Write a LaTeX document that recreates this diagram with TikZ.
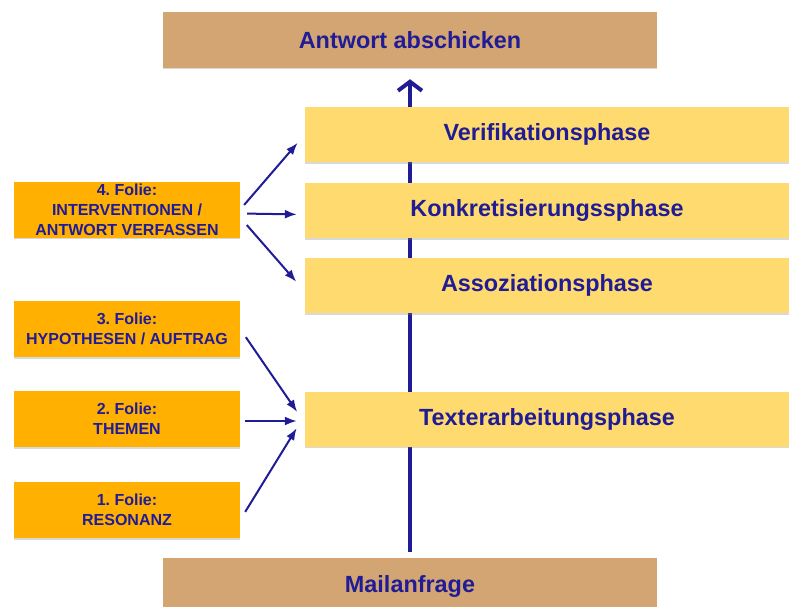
\documentclass[tikz,border=0pt]{standalone}
\usepackage{fontspec}
\setmainfont{Liberation Sans}
\usetikzlibrary{arrows.meta,shadows,positioning,backgrounds}
\definecolor{tanbox}{RGB}{211,165,115}
\definecolor{phasebox}{RGB}{255,218,110}
\definecolor{foliebox}{RGB}{255,176,0}
\definecolor{inkblue}{RGB}{32,28,150}
\frenchspacing

\begin{document}
\begin{tikzpicture}[x=1pt,y=-1pt,
	box/.style={inner sep=0pt,text=inkblue,align=center,
		drop shadow={shadow xshift=0pt,shadow yshift=-1.5pt,opacity=0.3}},
	endbox/.style={box,fill=tanbox,minimum width=494pt,minimum height=56pt,
		font=\bfseries\fontsize{23.4}{26}\selectfont},
	phase/.style={box,fill=phasebox,minimum width=484pt,minimum height=55pt,
		font=\bfseries\fontsize{23.4}{26}\selectfont},
	folie/.style={box,fill=foliebox,minimum width=226pt,minimum height=56pt,
		font=\bfseries\fontsize{16}{20}\selectfont},
	link/.style={-{Latex[length=12pt,width=9pt]},line width=2pt,inkblue}]
	\clip (0,0) rectangle (789,607);
	% end points
	\node[endbox] (antwort) at (410,40) {Antwort abschicken};
	\node[endbox] (mail) at (410,586) {Mailanfrage};
	% phases
	\node[phase] (verif) at (547,134.5) {Verifikationsphase};
	\node[phase] (konkret) at (547,210.5) {Konkretisierungssphase};
	\node[phase] (assoz) at (547,285.5) {Assoziationsphase};
	\node[phase] (texter) at (547,419) {Texterarbeitungsphase};
	% folien
	\node[folie] (folie4) at (127,209.5) {4. Folie:\\INTERVENTIONEN /\\ANTWORT VERFASSEN};
	\node[folie] (folie3) at (127,329) {3. Folie:\\HYPOTHESEN / AUFTRAG};
	\node[folie] (folie2) at (127,419) {2. Folie:\\THEMEN};
	\node[folie] (folie1) at (127,510) {1. Folie:\\RESONANZ};
	% main flow
	\begin{scope}[on background layer]
		\draw[-{Straight Barb[length=9pt,width=24pt]},line width=4pt,inkblue,
			shorten <=6pt,shorten >=11pt] (mail.north) -- (antwort.south);
	\end{scope}
	% links
	\draw[link,shorten <=6pt,shorten >=11pt] (folie4.east) -- (verif.west);
	\draw[link,shorten <=7pt,shorten >=8pt] ([yshift=-4pt]folie4.east) -- ([yshift=-4pt]konkret.west);
	\draw[link,shorten <=10pt,shorten >=13pt] ([yshift=-8pt]folie4.east) -- ([yshift=-6pt]assoz.west);
	\draw[link,shorten <=10pt,shorten >=13.5pt] (folie3.east) -- ([yshift=-4pt]texter.west);
	\draw[link,shorten <=5pt,shorten >=8pt] ([yshift=-2pt]folie2.east) -- ([yshift=-2pt]texter.west);
	\draw[link,shorten <=9.5pt,shorten >=15.5pt] ([yshift=-10pt]folie1.east) -- ([yshift=4pt]texter.west);
\end{tikzpicture}
\end{document}
